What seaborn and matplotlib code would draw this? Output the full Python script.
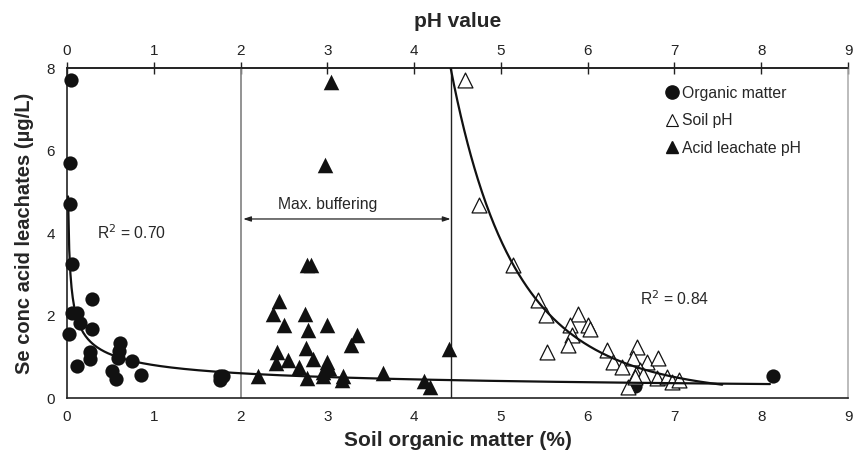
import numpy as np
import pandas as pd
import matplotlib
matplotlib.use("Agg")
import matplotlib.pyplot as plt
import seaborn as sns
from matplotlib.lines import Line2D

# Soil organic matter (%) vs Se concentration in acid leachates (µg/L)
om_x = [0.05, 0.03, 0.03, 0.06, 0.29, 0.06, 0.12, 0.15, 0.02, 0.29, 0.26, 0.26,
        0.12, 0.61, 0.60, 0.59, 0.75, 0.52, 0.57, 0.85, 1.76, 1.76, 1.80, 6.54, 8.14]
om_y = [7.70, 5.70, 4.70, 3.25, 2.40, 2.06, 2.06, 1.82, 1.55, 1.67, 1.12, 0.95,
        0.78, 1.33, 1.14, 0.97, 0.90, 0.66, 0.46, 0.56, 0.54, 0.44, 0.54, 0.29, 0.53]

# Soil pH vs Se concentration
soil_ph = [4.59, 4.75, 5.14, 5.43, 5.52, 5.89, 5.80, 6.00, 6.03, 5.82, 5.77, 5.53,
           6.22, 6.29, 6.39, 6.57, 6.52, 6.68, 6.81, 6.60, 6.56, 6.64, 6.80, 6.91,
           6.97, 7.05, 6.46, 6.54]
soil_y = [7.70, 4.68, 3.23, 2.38, 2.01, 2.04, 1.77, 1.77, 1.67, 1.53, 1.29, 1.12,
          1.17, 0.88, 0.76, 1.24, 0.97, 0.88, 0.97, 0.68, 0.58, 0.56, 0.48, 0.51,
          0.40, 0.44, 0.27, 0.51]

# Acid leachate pH vs Se concentration
acid_ph = [3.04, 2.97, 2.77, 2.81, 2.44, 2.37, 2.50, 2.74, 2.78, 3.00, 3.34, 3.27,
           2.42, 2.41, 2.55, 2.75, 2.83, 2.67, 3.00, 3.02, 2.20, 2.77, 2.95, 3.18,
           3.17, 3.64, 4.11, 4.18, 4.40, 2.95]
acid_y = [7.67, 5.66, 3.23, 3.23, 2.35, 2.04, 1.77, 2.04, 1.65, 1.77, 1.53, 1.29,
          1.12, 0.85, 0.92, 1.21, 0.95, 0.75, 0.87, 0.72, 0.53, 0.49, 0.53, 0.53,
          0.44, 0.61, 0.41, 0.27, 1.19, 0.63]

# Power-law trendlines y = a * x^b
om_fit = (0.797, -0.41)
ph_fit = (59700.0, -6.0)
r2_labels = ["0.70", "0.84"]

xticks = list(range(0, 10))
yticks = [0, 2, 4, 6, 8]

sns.set_style("white")
plt.rcParams["font.family"] = ["Liberation Sans", "DejaVu Sans"]

fig = plt.figure(figsize=(8.56, 4.58), dpi=100)
ax = fig.add_axes([0.0783, 0.131, 0.9124, 0.7205])

om_df = pd.DataFrame({"x": om_x, "y": om_y})
soil_df = pd.DataFrame({"x": soil_ph, "y": soil_y})
acid_df = pd.DataFrame({"x": acid_ph, "y": acid_y})

# reference lines bounding the buffering range
ax.axvline(2.0, color="#8a8a8a", lw=1.3, zorder=1)
ax.axvline(4.42, color="#222222", lw=1.0, zorder=1)

sns.scatterplot(data=om_df, x="x", y="y", ax=ax, marker="o", s=105,
                color="#111111", edgecolor="#111111", linewidth=0, zorder=3,
                clip_on=False)
sns.scatterplot(data=acid_df, x="x", y="y", ax=ax, marker="^", s=125,
                color="#111111", edgecolor="#111111", linewidth=0, zorder=3,
                clip_on=False)
sns.scatterplot(data=soil_df, x="x", y="y", ax=ax, marker="^", s=115,
                facecolor="white", edgecolor="#111111", linewidth=0.9, zorder=3,
                clip_on=False)

xs = np.linspace(0.012, 8.1, 600)
ax.plot(xs, om_fit[0] * xs ** om_fit[1], color="#111111", lw=1.6, zorder=4)
xp = np.linspace(4.42, 7.55, 400)
ax.plot(xp, ph_fit[0] * xp ** ph_fit[1], color="#111111", lw=1.6, zorder=4)

ax.annotate("", xy=(2.03, 4.34), xytext=(4.42, 4.34),
            arrowprops=dict(arrowstyle="<|-|>,head_length=0.45,head_width=0.15",
                            color="#222222", lw=0.9, shrinkA=0, shrinkB=0))
ax.text(3.0, 4.52, "Max. buffering", ha="center", va="bottom", fontsize=11.3)

ax.text(0.35, 4.0, r"R$^2$ = " + r2_labels[0], fontsize=11.3, va="center")
ax.text(6.6, 2.4, r"R$^2$ = " + r2_labels[1], fontsize=11.3, va="center")

ax.set_xlim(0, 9)
ax.set_ylim(0, 8)
ax.set_xticks(xticks)
ax.set_yticks(yticks)
ax.tick_params(axis="both", labelsize=11, length=5, width=1, colors="#222222",
               direction="out")
ax.set_xlabel("Soil organic matter (%)", fontsize=15, fontweight="bold", labelpad=5)
ax.set_ylabel("Se conc acid leachates (µg/L)", fontsize=14.5, fontweight="bold",
              labelpad=9.5)

for side in ["left", "bottom", "top"]:
    ax.spines[side].set_color("#222222")
    ax.spines[side].set_linewidth(1.2)
ax.spines["right"].set_color("#b0b0b0")
ax.spines["right"].set_linewidth(1.2)

top = ax.secondary_xaxis("top")
top.set_xticks(xticks)
top.tick_params(labelsize=11, length=8, width=1, direction="inout", colors="#222222")
top.set_xlabel("pH value", fontsize=15, fontweight="bold", labelpad=12)
top.spines["top"].set_color("#222222")
top.spines["top"].set_linewidth(1.2)

handles = [
    Line2D([], [], marker="o", ls="", color="#111111", markersize=9.5),
    Line2D([], [], marker="^", ls="", markerfacecolor="white",
           markeredgecolor="#111111", markeredgewidth=0.8, markersize=9),
    Line2D([], [], marker="^", ls="", color="#111111", markersize=9),
]
ax.legend(handles, ["Organic matter", "Soil pH", "Acid leachate pH"],
          loc="upper left", bbox_to_anchor=(0.755, 0.965), frameon=False,
          fontsize=11.3, handletextpad=0.0, labelspacing=0.8, handlelength=1.2,
          borderaxespad=0)

fig.savefig("out.png", dpi=100)
